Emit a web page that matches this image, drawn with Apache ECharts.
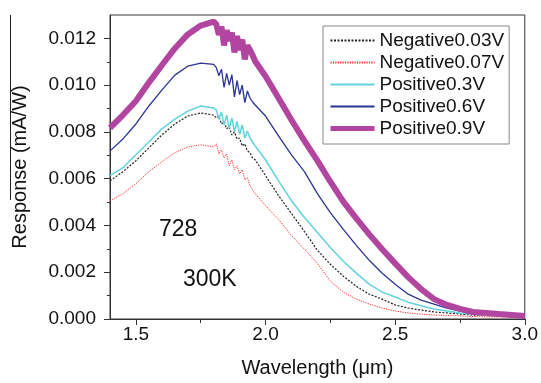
<!DOCTYPE html>
<html>
<head>
<meta charset="UTF-8">
<title>Response vs Wavelength</title>
<script src="https://cdn.jsdelivr.net/npm/echarts@6/dist/echarts.min.js"></script>
<style>
  html, body { margin: 0; padding: 0; background: #fff; }
</style>
</head>
<body>
    <div id="main" style="width: 541px;height:383px;"></div>

    <script type="text/javascript">
    // wavelength grid (um), finer in the noisy band near the peak
    var wavelength = [1.40,1.45,1.50,1.55,1.60,1.65,1.70,1.75,
        1.80,1.81,1.82,1.83,1.84,1.85,1.86,1.87,1.88,1.89,1.90,1.91,1.92,1.93,1.94,1.95,1.96,
        2.00,2.05,2.10,2.15,2.20,2.25,2.30,2.35,2.40,2.45,2.50,2.55,2.60,2.65,2.70,2.75,2.80,2.85,2.90,2.95,3.00];

    var neg003 = [0.00591,0.00630,0.00677,0.00732,0.00787,0.00834,0.00868,0.00881,
        0.00872,0.00860,0.00868,0.00834,0.00843,0.00813,0.00821,0.00787,0.00800,0.00770,0.00774,0.00740,0.00749,0.00719,0.00711,0.00689,0.00681,
        0.00613,0.00528,0.00451,0.00374,0.00294,0.00234,0.00183,0.00140,0.00106,0.00085,0.00060,0.00047,0.00038,0.00030,0.00026,0.00021,0.00017,0.00015,0.00013,0.00013,0.00011];

    var neg007 = [0.00506,0.00536,0.00579,0.00630,0.00672,0.00711,0.00736,0.00745,
        0.00736,0.00749,0.00706,0.00723,0.00689,0.00706,0.00655,0.00681,0.00638,0.00655,0.00621,0.00638,0.00596,0.00604,0.00570,0.00553,0.00536,
        0.00485,0.00426,0.00357,0.00298,0.00238,0.00162,0.00115,0.00085,0.00064,0.00047,0.00034,0.00026,0.00021,0.00017,0.00015,0.00013,0.00011,0.00009,0.00009,0.00008,0.00008];

    var pos03 = [0.00613,0.00647,0.00702,0.00757,0.00813,0.00855,0.00889,0.00911,
        0.00902,0.00894,0.00855,0.00885,0.00830,0.00872,0.00815,0.00860,0.00800,0.00845,0.00790,0.00830,0.00774,0.00804,0.00774,0.00757,0.00740,
        0.00681,0.00591,0.00506,0.00434,0.00370,0.00306,0.00247,0.00196,0.00149,0.00115,0.00094,0.00072,0.00057,0.00043,0.00034,0.00026,0.00021,0.00017,0.00015,0.00013,0.00013];

    var pos06 = [0.00719,0.00770,0.00834,0.00911,0.00979,0.01043,0.01081,0.01094,
        0.01089,0.01075,0.01040,0.01068,0.00990,0.01050,0.01000,0.01045,0.00950,0.01020,0.00960,0.01000,0.00925,0.00975,0.00945,0.00928,0.00915,
        0.00868,0.00783,0.00702,0.00630,0.00536,0.00455,0.00383,0.00315,0.00251,0.00196,0.00149,0.00106,0.00081,0.00064,0.00047,0.00034,0.00026,0.00021,0.00017,0.00015,0.00013];

    var pos09 = [0.00817,0.00872,0.00932,0.01011,0.01085,0.01157,0.01217,0.01255,
        0.01272,0.01260,0.01215,0.01250,0.01170,0.01235,0.01190,0.01225,0.01140,0.01210,0.01150,0.01195,0.01110,0.01170,0.01150,0.01128,0.01102,
        0.01038,0.00945,0.00851,0.00762,0.00677,0.00587,0.00502,0.00430,0.00362,0.00298,0.00238,0.00179,0.00128,0.00085,0.00060,0.00043,0.00030,0.00026,0.00021,0.00017,0.00013];

    var xMajor = [1.5, 2.0, 2.5, 3.0];
    var xMinor = [1.75, 2.25, 2.75];
    var yMajor = [0, 0.002, 0.004, 0.006, 0.008, 0.010, 0.012];
    var yMinor = [0.001, 0.003, 0.005, 0.007, 0.009, 0.011];

    var FONT = 'Liberation Sans, Arial, sans-serif';

    function pairs(ys) {
        return wavelength.map(function (w, i) { return [w, ys[i]]; });
    }

    function lineSeries(name, ys, color, width, type) {
        return {
            name: name,
            type: 'line',
            data: pairs(ys),
            symbol: 'none',
            smooth: false,
            sampling: null,
            lineStyle: { color: color, width: width, type: type },
            itemStyle: { color: color }
        };
    }

    var myChart = echarts.init(document.getElementById('main'));

    var option = {
        animation: false,
        backgroundColor: '#fff',
        textStyle: { fontFamily: FONT },
        grid: {
            left: 110, right: 15, top: 15, bottom: 61,
            show: true, borderColor: '#333', borderWidth: 1
        },
        legend: {
            orient: 'vertical',
            left: 323, top: 26,
            padding: [5, 5, 6, 5],
            itemWidth: 44, itemHeight: 14, itemGap: 3,
            borderColor: '#888', borderWidth: 1,
            backgroundColor: '#fff',
            itemStyle: { opacity: 0 },
            textStyle: { fontFamily: FONT, fontSize: 19, color: '#111' },
            data: ['Negative0.03V', 'Negative0.07V', 'Positive0.3V', 'Positive0.6V',
                { name: 'Positive0.9V', lineStyle: { width: 5 } }]
        },
        xAxis: [{
            type: 'value', min: 1.4, max: 3.0,
            name: 'Wavelength (\u03bcm)', nameLocation: 'middle', nameGap: 39,
            nameTextStyle: { fontFamily: FONT, fontSize: 20, color: '#111' },
            axisLine: { lineStyle: { color: '#333', width: 1 } },
            axisTick: { show: true, customValues: xMajor, length: 6, lineStyle: { color: '#333' } },
            axisLabel: { customValues: xMajor, margin: 6, fontSize: 19, color: '#111', fontFamily: FONT,
                formatter: function (v) { return v.toFixed(1); } },
            splitLine: { show: false }
        }, {
            type: 'value', min: 1.4, max: 3.0, position: 'bottom',
            axisLine: { show: false },
            axisTick: { show: true, customValues: xMinor, length: 4, lineStyle: { color: '#333' } },
            axisLabel: { show: false },
            splitLine: { show: false }
        }],
        yAxis: [{
            type: 'value', min: 0, max: 0.013,
            name: 'Response (mA/W)', nameLocation: 'middle', nameGap: 80,
            nameTextStyle: { fontFamily: FONT, fontSize: 20, color: '#111' },
            axisLine: { show: true, lineStyle: { color: '#333', width: 1 } },
            axisTick: { show: true, customValues: yMajor, length: 6, lineStyle: { color: '#333' } },
            axisLabel: { customValues: yMajor, margin: 14, fontSize: 19, color: '#111', fontFamily: FONT,
                formatter: function (v) { return v.toFixed(3); } },
            splitLine: { show: false }
        }, {
            type: 'value', min: 0, max: 0.013, position: 'left',
            axisLine: { show: false },
            axisTick: { show: true, customValues: yMinor, length: 3, lineStyle: { color: '#333' } },
            axisLabel: { show: false },
            splitLine: { show: false }
        }],
        graphic: [
            { type: 'text', left: 159, top: 218, style: { text: '728', font: '23px ' + FONT, fill: '#111' } },
            { type: 'text', left: 183, top: 268, style: { text: '300K', font: '23px ' + FONT, fill: '#111' } },
            { type: 'line', shape: { x1: 10.5, y1: 15, x2: 10.5, y2: 200 }, style: { stroke: '#222', lineWidth: 1 } }
        ],
        series: [
            lineSeries('Negative0.03V', neg003, '#222222', 1.2, [2, 1.5]),
            lineSeries('Negative0.07V', neg007, '#ff2a2a', 1, [1.2, 1.2]),
            lineSeries('Positive0.3V', pos03, '#62d2dc', 1.5, 'solid'),
            lineSeries('Positive0.6V', pos06, '#2b3492', 1.3, 'solid'),
            lineSeries('Positive0.9V', pos09, '#b1459f', 6, 'solid')
        ]
    };
    myChart.setOption(option);
    </script>
</body>
</html>
